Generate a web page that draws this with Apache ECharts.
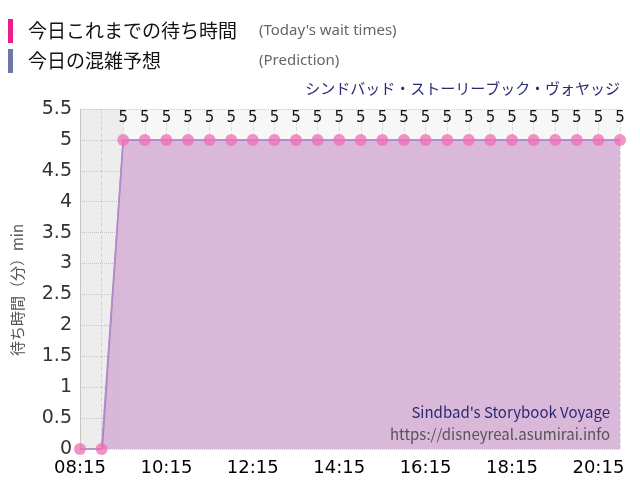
<!DOCTYPE html><html><head><meta charset="utf-8"><script src="https://cdn.jsdelivr.net/npm/echarts@6/dist/echarts.min.js"></script></head><body style="margin:0"><div id="c" style="width:640px;height:500px"></div><script>
// minutes after 08:15
const waitTimes=[0,30,60,90,120,150,180,210,240,270,300,330,360,390,420,450,480,510,540,570,600,630,660,690,720,750];
const waitValues=[0,0,5,5,5,5,5,5,5,5,5,5,5,5,5,5,5,5,5,5,5,5,5,5,5,5];
const predTimes=[0,31,60,750];
const predValues=[0,0,5,5];
const yTicks=[0,0.5,1,1.5,2,2.5,3,3.5,4,4.5,5,5.5];
function fmt(v){const m=495+v;const h=Math.floor(m/60),mm=m%60;return String(h).padStart(2,'0')+':'+String(mm).padStart(2,'0');}
const ch=echarts.init(document.getElementById('c'));
const F='"Noto Sans CJK JP",sans-serif';
ch.setOption({animation:false,
grid:{left:80,right:20,top:109,bottom:51,backgroundColor:'#f7f7f7',show:true,borderWidth:0},
graphic:[
{type:'rect',shape:{x:8,y:19,width:5,height:24},style:{fill:'#ee1c8c'}},
{type:'rect',shape:{x:8,y:49,width:5,height:24},style:{fill:'#6e78a8'}},
{type:'text',x:28,y:31,style:{text:'今日これまでの待ち時間',font:'19px '+F,fill:'#111',verticalAlign:'middle'}},
{type:'text',x:28,y:61,style:{text:'今日の混雑予想',font:'19px '+F,fill:'#111',verticalAlign:'middle'}},
{type:'text',x:259,y:31,style:{text:"(Today's wait times)",font:'15px "Noto Sans",sans-serif',fill:'#666',verticalAlign:'middle'}},
{type:'text',x:259,y:61,style:{text:'(Prediction)',font:'15px "Noto Sans",sans-serif',fill:'#666',verticalAlign:'middle'}},
{type:'text',right:20,top:81,style:{text:'シンドバッド・ストーリーブック・ヴォヤッジ',font:'15px '+F,fill:'#2a2a72'}},
{type:'text',right:30,top:405,style:{text:"Sindbad's Storybook Voyage",font:'15px '+F,fill:'#2a2a72'},z:10},
{type:'text',right:30,top:427,style:{text:'https://disneyreal.asumirai.info',font:'15px '+F,fill:'#555'},z:10},
{type:'text',x:17,y:290,rotation:Math.PI/2,style:{text:'待ち時間（分）min',font:'15px '+F,fill:'#555',align:'center',verticalAlign:'middle'}}
],
xAxis:{type:'value',min:0,max:750,interval:30,axisLine:{show:false},axisTick:{show:false},
axisLabel:{formatter:v=>v%120===0?fmt(v):'',fontSize:18,color:'#000',fontFamily:'"DejaVu Sans",sans-serif',margin:10},
splitLine:{show:true,lineStyle:{type:'dashed',color:'#ddd'}}},
yAxis:{type:'value',min:0,max:5.5,interval:0.5,axisLine:{show:true,lineStyle:{color:'#ccc'}},axisTick:{show:false},
axisLabel:{fontSize:19,color:'#333',fontFamily:'"DejaVu Sans",sans-serif',formatter:v=>String(v)},
splitLine:{lineStyle:{type:'dotted',color:'#ccc'}}},
series:[
{type:'line',data:predTimes.map((t,i)=>[t,predValues[i]]),symbol:'none',lineStyle:{color:'#a58ac0',width:1.5},areaStyle:{color:'#d8b4d8',opacity:0.95},z:2,
markArea:{silent:true,itemStyle:{color:'rgba(0,0,0,0.04)'},data:[[{xAxis:0},{xAxis:60}]]}},
{type:'line',data:waitTimes.map((t,i)=>[t,waitValues[i]]),symbol:'circle',symbolSize:12,itemStyle:{color:'rgba(240,110,180,0.75)'},lineStyle:{color:'#b28ac8',width:1.5},z:3,
label:{show:true,position:'top',distance:8,fontSize:15,color:'#111',fontFamily:'"DejaVu Sans",sans-serif',formatter:p=>p.value[1]>0?p.value[1]:''}}
]});
</script></body></html>
